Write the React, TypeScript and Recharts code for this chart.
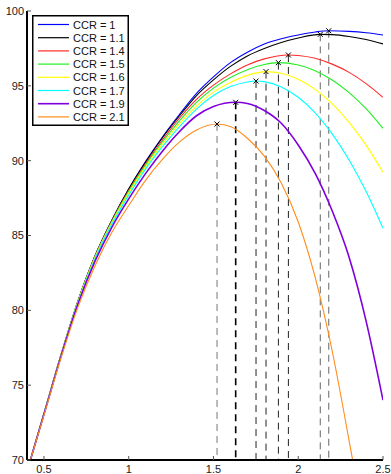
import React from 'react';
import { ComposedChart, Line, XAxis, YAxis, Scatter, ReferenceLine, Legend } from 'recharts';

type P = { x: number; y: number };
const toPts = (a: number[][]): P[] => a.map(([x, y]) => ({ x, y }));

const xTicks = [0.5, 1, 1.5, 2, 2.5];
const yTicks = [70, 75, 80, 85, 90, 95, 100];

const ccrNames = ['CCR = 1', 'CCR = 1.1', 'CCR = 1.4', 'CCR = 1.5', 'CCR = 1.6', 'CCR = 1.7', 'CCR = 1.9', 'CCR = 2.1'];

const ccr1 = [[0.42,70],[0.5,73.1],[0.6,77.0],[0.7,80.6],[0.8,83.6],[0.9,86.0],[1.0,88.1],[1.1,89.95],[1.2,91.6],[1.3,93.1],[1.4,94.5],[1.5,95.6],[1.6,96.55],[1.7,97.25],[1.8,97.8],[1.9,98.15],[2.0,98.4],[2.1,98.6],[2.18,98.68],[2.3,98.64],[2.4,98.55],[2.5,98.4]];
const ccr11 = [[0.42,70],[0.5,73.1],[0.6,77.0],[0.7,80.6],[0.8,83.6],[0.9,86.0],[1.0,88.1],[1.1,89.9],[1.2,91.55],[1.3,93.0],[1.4,94.35],[1.5,95.4],[1.6,96.3],[1.7,97.0],[1.8,97.5],[1.9,97.9],[2.0,98.2],[2.13,98.44],[2.2,98.42],[2.3,98.3],[2.4,98.1],[2.5,97.8]];
const ccr14 = [[0.42,70],[0.5,73.1],[0.6,77.0],[0.7,80.6],[0.8,83.58],[0.9,85.96],[1.0,88.0],[1.1,89.8],[1.2,91.4],[1.3,92.85],[1.4,94.1],[1.5,95.05],[1.6,95.8],[1.7,96.4],[1.8,96.8],[1.942,97.06],[2.0,97.03],[2.1,96.84],[2.2,96.45],[2.3,95.9],[2.4,95.15],[2.5,94.23]];
const ccr15 = [[0.42,70],[0.5,73.1],[0.6,77.0],[0.7,80.58],[0.8,83.55],[0.9,85.92],[1.0,87.95],[1.1,89.72],[1.2,91.28],[1.3,92.68],[1.4,93.9],[1.5,94.85],[1.6,95.55],[1.7,96.08],[1.8,96.42],[1.883,96.55],[2.0,96.39],[2.1,96.01],[2.2,95.39],[2.3,94.55],[2.4,93.48],[2.5,92.16]];
const ccr16 = [[0.42,70],[0.5,73.1],[0.6,77.0],[0.7,80.55],[0.8,83.5],[0.9,85.85],[1.0,87.85],[1.1,89.6],[1.2,91.12],[1.3,92.48],[1.4,93.65],[1.5,94.58],[1.6,95.22],[1.7,95.7],[1.81,95.95],[1.9,95.84],[2.0,95.44],[2.1,94.76],[2.2,93.81],[2.3,92.56],[2.4,91.04],[2.5,89.22]];
const ccr17 = [[0.42,70],[0.5,73.1],[0.6,76.95],[0.7,80.5],[0.8,83.42],[0.9,85.75],[1.0,87.7],[1.1,89.45],[1.2,90.95],[1.3,92.28],[1.4,93.45],[1.5,94.35],[1.6,94.95],[1.7,95.26],[1.751,95.32],[1.8,95.28],[1.9,94.93],[2.0,94.24],[2.1,93.2],[2.2,91.79],[2.3,90.05],[2.4,87.95],[2.5,85.48]];
const ccr19 = [[0.42,70],[0.5,73.05],[0.6,76.9],[0.7,80.4],[0.8,83.25],[0.9,85.55],[1.0,87.45],[1.1,89.15],[1.2,90.65],[1.3,91.95],[1.4,93.0],[1.5,93.62],[1.631,93.9],[1.7,93.82],[1.8,93.35],[1.9,92.5],[2.0,91.05],[2.1,89.15],[2.2,86.65],[2.3,83.55],[2.4,79.3],[2.5,74.0]];
const ccr21 = [[0.42,70],[0.5,73.0],[0.6,76.8],[0.7,80.2],[0.8,82.95],[0.9,85.2],[1.0,87.0],[1.1,88.7],[1.2,90.1],[1.3,91.25],[1.4,92.05],[1.521,92.45],[1.6,92.28],[1.7,91.5],[1.8,90.3],[1.9,88.5],[2.0,85.9],[2.1,82.2],[2.2,77.3],[2.3,71.3],[2.321,70]];

const peakX = [2.18, 2.13, 1.942, 1.883, 1.81, 1.751, 1.631, 1.521];
const peakY = [98.68, 98.44, 97.06, 96.55, 95.95, 95.32, 93.9, 92.45];

const colors = ['#0000ff', '#000000', '#ff2a2a', '#22ee22', '#ffff00', '#00ffff', '#8000dd', '#ff8c1a'];
const widths = [1.1, 1.1, 1.1, 1.1, 1.1, 1.1, 1.6, 1.1];
const dashColors = ['#666', '#666', '#222', '#222', '#222', '#222', '#000', '#777'];
const dashWidths = [1, 1, 1, 1, 1, 1, 1.6, 1];

const seriesData = [ccr1, ccr11, ccr14, ccr15, ccr16, ccr17, ccr19, ccr21].map(toPts);
const peaks: P[] = peakX.map((x, i) => ({ x, y: peakY[i] }));

const FONT = 'Liberation Sans, Arial, Helvetica, sans-serif';

const XMark = (props: any) => {
  const { cx, cy } = props;
  const r = 2.5;
  return (
    <g>
      <line x1={cx - r} y1={cy - r} x2={cx + r} y2={cy + r} stroke="#000" strokeWidth={1} />
      <line x1={cx - r} y1={cy + r} x2={cx + r} y2={cy - r} stroke="#000" strokeWidth={1} />
    </g>
  );
};

const NoLabel = () => <g />;

const LegendBox = () => (
  <svg width={97} height={111} style={{ display: 'block' }}>
    <rect x={0.75} y={0.75} width={95.5} height={109.5} fill="#fff" stroke="#000" strokeWidth={1.5} />
    {ccrNames.map((name, i) => {
      const cy = 9.5 + i * 13.2;
      return (
        <g key={name}>
          <line x1={6} x2={37} y1={cy} y2={cy} stroke={colors[i]} strokeWidth={i === 6 ? 1.6 : 1.2} />
          <text x={41} y={cy + 4} fontSize={11} fontFamily={FONT} fill="#111">{name}</text>
        </g>
      );
    })}
  </svg>
);

const tickStyle = { fontSize: 11, fontFamily: FONT, fill: '#222' };
const axisLineStyle = { stroke: '#000', strokeWidth: 2 };
const tickLineStyle = { stroke: '#555', strokeWidth: 1 };

export default function App() {
  return (
    <div style={{ position: 'absolute', left: 0, top: 0, background: '#fff' }}>
      <ComposedChart width={391} height={474} margin={{ top: 11, right: 8, bottom: 0, left: 0 }}>
        <XAxis dataKey="x" type="number" domain={[0.4, 2.5]} ticks={xTicks} height={14}
          tickSize={-4} tickMargin={9} tick={tickStyle} axisLine={axisLineStyle} tickLine={tickLineStyle}
          allowDataOverflow interval={0} />
        <XAxis xAxisId="top" orientation="top" dataKey="x" type="number" domain={[0.4, 2.5]} ticks={xTicks} height={0}
          tickSize={-4} tick={NoLabel} axisLine={axisLineStyle} tickLine={tickLineStyle} allowDataOverflow interval={0} />
        <YAxis type="number" domain={[70, 100]} ticks={yTicks} width={27}
          tickSize={-4} tickMargin={7} tick={tickStyle} axisLine={axisLineStyle} tickLine={tickLineStyle}
          allowDataOverflow interval={0} />
        <YAxis yAxisId="right" orientation="right" type="number" domain={[70, 100]} ticks={yTicks} width={0}
          tickSize={-4} tick={NoLabel} axisLine={axisLineStyle} tickLine={tickLineStyle} allowDataOverflow interval={0} />
        {peaks.map((p, i) => (
          <ReferenceLine key={'d' + i} segment={[{ x: p.x, y: p.y }, { x: p.x, y: 70 }]}
            stroke={dashColors[i]} strokeWidth={dashWidths[i]} strokeDasharray="7 5" ifOverflow="visible" />
        ))}
        {seriesData.map((d, i) => (
          <Line key={ccrNames[i]} data={d} dataKey="y" name={ccrNames[i]} type="monotone"
            stroke={colors[i]} strokeWidth={widths[i]} dot={false} activeDot={false} isAnimationActive={false} />
        ))}
        <Scatter data={peaks} dataKey="y" shape={XMark} isAnimationActive={false} />
        <Legend content={LegendBox} layout="horizontal" verticalAlign="middle" align="center"
          wrapperStyle={{ left: 32, top: 15, width: 97, height: 111 }} />
      </ComposedChart>
    </div>
  );
}
